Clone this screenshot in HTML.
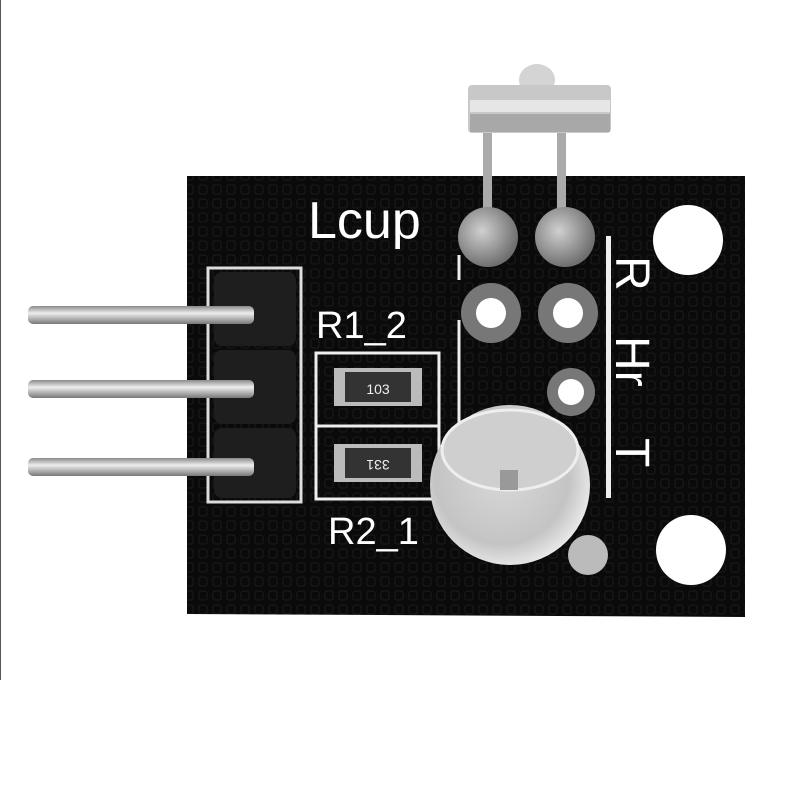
<!DOCTYPE html>
<html><head><meta charset="utf-8"><style>html,body{margin:0;padding:0;background:#fff}svg{display:block}</style></head>
<body>
<svg width="800" height="797" viewBox="0 0 800 797" xmlns="http://www.w3.org/2000/svg">
<defs>
<pattern id="grid" width="14" height="14" patternUnits="userSpaceOnUse">
<rect width="14" height="14" fill="#0a0a0a"/>
<rect x="3" y="3" width="8" height="9" rx="2" fill="none" stroke="#1c1c1c" stroke-width="1"/>
</pattern>
<linearGradient id="pin" x1="0" y1="0" x2="0" y2="1">
<stop offset="0" stop-color="#8a8a8a"/><stop offset="0.4" stop-color="#eeeeee"/><stop offset="1" stop-color="#777"/>
</linearGradient>
<radialGradient id="led" cx="0.45" cy="0.45" r="0.6">
<stop offset="0" stop-color="#d8d8d8"/><stop offset="0.7" stop-color="#c4c4c4"/><stop offset="1" stop-color="#f0f0f0"/>
</radialGradient>
<radialGradient id="pad" cx="0.4" cy="0.4" r="0.6">
<stop offset="0" stop-color="#d0d0d0"/><stop offset="1" stop-color="#707070"/>
</radialGradient>
</defs>
<rect width="800" height="797" fill="#fff"/>
<line x1="0.5" y1="0" x2="0.5" y2="680" stroke="#555" stroke-width="1"/>
<polygon points="187,176 745,176 745,617 187,614" fill="url(#grid)"/>
<rect x="483" y="120" width="9" height="110" fill="#aaa"/>
<rect x="557" y="120" width="9" height="110" fill="#aaa"/>
<ellipse cx="537" cy="80" rx="18" ry="16" fill="#d4d4d4"/>
<rect x="468" y="85" width="143" height="48" rx="4" fill="#c8c8c8"/>
<rect x="470" y="100" width="140" height="12" fill="#e6e6e6"/>
<rect x="470" y="114" width="140" height="18" fill="#a8a8a8"/>
<rect x="208" y="268" width="93" height="234" fill="none" stroke="#ddd" stroke-width="3"/>
<rect x="214" y="272" width="82" height="74" rx="8" fill="#1e1e1e"/>
<rect x="214" y="350" width="82" height="74" rx="8" fill="#1e1e1e"/>
<rect x="214" y="428" width="82" height="70" rx="8" fill="#1e1e1e"/>
<rect x="28" y="306" width="226" height="18" rx="5" fill="url(#pin)"/>
<rect x="28" y="380" width="226" height="18" rx="5" fill="url(#pin)"/>
<rect x="28" y="458" width="226" height="18" rx="5" fill="url(#pin)"/>
<text x="308" y="238" font-family="Liberation Sans, sans-serif" font-size="52" fill="#fff">Lcup</text>
<text x="316" y="338" font-family="Liberation Sans, sans-serif" font-size="38" fill="#fff">R1_2</text>
<text x="328" y="544" font-family="Liberation Sans, sans-serif" font-size="38" fill="#fff">R2_1</text>
<rect x="316" y="353" width="123" height="146" fill="none" stroke="#eee" stroke-width="3"/>
<line x1="316" y1="426" x2="439" y2="426" stroke="#eee" stroke-width="3"/>
<rect x="334" y="368" width="88" height="38" fill="#bbb"/>
<rect x="345" y="372" width="66" height="30" fill="#333"/>
<text x="378" y="394" text-anchor="middle" font-family="Liberation Sans, sans-serif" font-size="14" fill="#eee">103</text>
<rect x="334" y="444" width="88" height="38" fill="#bbb"/>
<rect x="345" y="448" width="66" height="30" fill="#333"/>
<text x="378" y="470" text-anchor="middle" font-family="Liberation Sans, sans-serif" font-size="14" fill="#eee" transform="rotate(180 378 465)">331</text>
<line x1="459" y1="255" x2="459" y2="280" stroke="#eee" stroke-width="3"/>
<line x1="459" y1="320" x2="459" y2="440" stroke="#eee" stroke-width="3"/>
<circle cx="488" cy="237" r="30" fill="url(#pad)"/>
<circle cx="565" cy="237" r="30" fill="url(#pad)"/>
<circle cx="491" cy="313" r="30" fill="#777"/><circle cx="491" cy="313" r="15" fill="#fff"/>
<circle cx="568" cy="313" r="30" fill="#777"/><circle cx="568" cy="313" r="15" fill="#fff"/>
<circle cx="571" cy="392" r="24" fill="#777"/><circle cx="571" cy="392" r="13" fill="#fff"/>
<rect x="606" y="236" width="5" height="262" fill="#eee"/>
<text transform="translate(616,256) rotate(90)" font-family="Liberation Sans, sans-serif" font-size="48" fill="#fff">R</text>
<text transform="translate(616,336) rotate(90)" font-family="Liberation Sans, sans-serif" font-size="48" fill="#fff">Hr</text>
<text transform="translate(616,438) rotate(90)" font-family="Liberation Sans, sans-serif" font-size="48" fill="#fff">T</text>
<circle cx="688" cy="240" r="35" fill="#fff"/>
<circle cx="691" cy="550" r="35" fill="#fff"/>
<circle cx="588" cy="555" r="20" fill="#bbb"/>
<circle cx="510" cy="485" r="80" fill="url(#led)"/>
<ellipse cx="510" cy="450" rx="68" ry="40" fill="#cfcfcf" stroke="#eee" stroke-width="3"/>
<rect x="500" y="470" width="18" height="20" fill="#999"/>
</svg>
</body></html>
